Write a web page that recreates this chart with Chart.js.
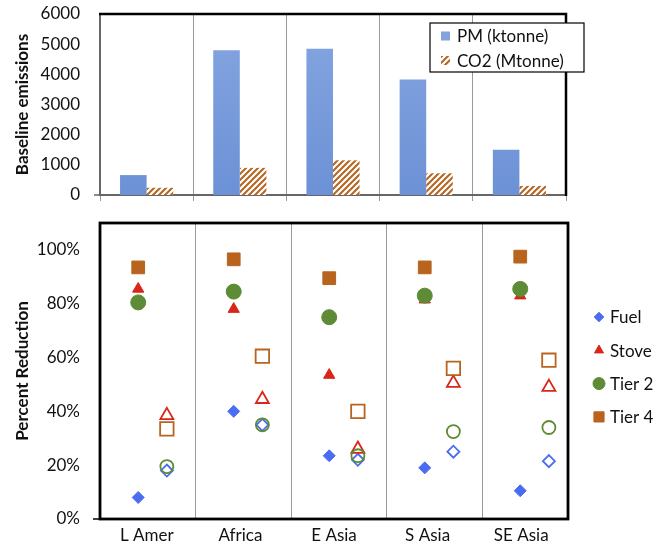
<!DOCTYPE html>
<html><head><meta charset="utf-8">
<script src="https://cdn.jsdelivr.net/npm/chart.js@4.4.1/dist/chart.umd.min.js"></script>
<style>
html,body{margin:0;padding:0;background:#fff;}
#wrap{position:relative;width:672px;height:545px;overflow:hidden;}
#c1{position:absolute;left:0;top:0;}
#c2{position:absolute;left:0;top:210px;}
</style></head>
<body><div id="wrap"><canvas id="c1" width="672" height="210"></canvas><canvas id="c2" width="672" height="335"></canvas></div>
<script>
// ---------- data ----------
const categories = ['L Amer', 'Africa', 'E Asia', 'S Asia', 'SE Asia'];
const baselineLabels = ['PM (ktonne)', 'CO2 (Mtonne)'];
const pmBaseline  = [660, 4800, 4850, 3830, 1500];
const co2Baseline = [240, 900, 1150, 720, 300];
const baselineTicks = [0, 1000, 2000, 3000, 4000, 5000, 6000];

const seriesNames = ['Fuel', 'Stove', 'Tier 2', 'Tier 4'];
// PM reductions (%) - filled markers
const pmFuel  = [8, 40, 23.5, 19, 10.5];
const pmStove = [85.5, 78, 53.5, 81.5, 83];
const pmTier2 = [80.5, 84.5, 75, 83, 85.5];
const pmTier4 = [93.5, 96.5, 89.5, 93.5, 97.5];
// CO2 reductions (%) - open markers
const co2Fuel  = [18, 35, 22, 25, 21.5];
const co2Stove = [38.5, 44.5, 26, 50.5, 49];
const co2Tier2 = [19.5, 35, 23.5, 32.5, 34];
const co2Tier4 = [33.5, 60.5, 40, 56, 59];
const percentTicks = [0, 20, 40, 60, 80, 100];

// ---------- style ----------
Chart.defaults.font.family = 'Lato, "Open Sans", sans-serif';
Chart.defaults.font.size = 17;
Chart.defaults.color = '#111';
const HATCH = '#b5651d';
const COLORS = ['#4a6cf0', '#d8261a', '#5e8b35', '#b8641f'];
const STYLES = ['rectRot', 'triangle', 'circle', 'rect'];
const RF = [6, 6.5, 7.5, 9];     // filled radii
const RO = [6, 7.5, 6.5, 9.5];   // open radii
const FILLED_OFF = 0.4, OPEN_OFF = 0.7;

function makeHatch(ctx) {
  const p = document.createElement('canvas'); p.width = 6; p.height = 6;
  const c = p.getContext('2d');
  c.fillStyle = '#fff'; c.fillRect(0, 0, 6, 6);
  c.strokeStyle = HATCH; c.lineWidth = 2; c.lineCap = 'square';
  c.beginPath();
  c.moveTo(0, 6); c.lineTo(6, 0);
  c.moveTo(-3, 3); c.lineTo(3, -3);
  c.moveTo(3, 9); c.lineTo(9, 3);
  c.stroke();
  return ctx.createPattern(p, 'repeat');
}

const ctx1 = document.getElementById('c1').getContext('2d');
const hatchPattern = makeHatch(ctx1);
const blueGrad = ctx1.createLinearGradient(0, 14, 0, 195);
blueGrad.addColorStop(0, '#85a6e0');
blueGrad.addColorStop(1, '#6d91d6');

// frame + legend plugin for top chart
const topFrame = {
  id: 'topFrame',
  afterDraw(chart) {
    const {ctx, chartArea: a} = chart;
    ctx.save();
    ctx.strokeStyle = '#000'; ctx.lineWidth = 2.5;
    ctx.beginPath();
    ctx.moveTo(a.left - 1, a.top); ctx.lineTo(a.right, a.top); ctx.lineTo(a.right, a.bottom + 1);
    ctx.stroke();
    ctx.strokeStyle = '#666'; ctx.lineWidth = 1.5;
    ctx.beginPath(); ctx.moveTo(a.left - 6, a.bottom); ctx.lineTo(a.left, a.bottom); ctx.stroke();
    // legend box
    const lx = 430, ly = 23, lw = 154, lh = 49;
    ctx.fillStyle = '#fff'; ctx.fillRect(lx, ly, lw, lh);
    ctx.strokeStyle = '#000'; ctx.lineWidth = 1.2; ctx.strokeRect(lx, ly, lw, lh);
    const ds = chart.data.datasets;
    ctx.font = '17px Lato, "Open Sans", sans-serif';
    ctx.textBaseline = 'middle';
    ds.forEach((d, i) => {
      const cy = ly + 13 + i * 24.5;
      ctx.fillStyle = d.backgroundColor;
      ctx.fillRect(lx + 11, cy - 4.5, 9, 9);
      ctx.fillStyle = '#111';
      ctx.fillText(d.label, lx + 27, cy + 1);
    });
    ctx.restore();
  }
};

new Chart(ctx1, {
  type: 'bar',
  data: {
    labels: categories,
    datasets: [
      {label: baselineLabels[0], data: pmBaseline, backgroundColor: blueGrad, borderWidth: 0},
      {label: baselineLabels[1], data: co2Baseline, backgroundColor: hatchPattern, borderWidth: 0}
    ]
  },
  options: {
    responsive: false, animation: false, devicePixelRatio: 1,
    categoryPercentage: 0.57, barPercentage: 1.0,
    layout: {padding: {top: 14, right: 106, left: 0, bottom: 0}},
    plugins: {legend: {display: false}, tooltip: {enabled: false}},
    scales: {
      x: {
        ticks: {display: false},
        grid: {color: '#9a9a9a', lineWidth: 1, tickLength: 6, offset: true},
        border: {color: '#666', width: 2},
        afterFit: s => { s.height = 15; }
      },
      y: {
        min: 0, max: 6000,
        afterBuildTicks: s => { s.ticks = baselineTicks.map(v => ({value: v})); },
        ticks: {padding: 0, font: {size: 17}, callback: v => String(v)},
        grid: {display: false, drawTicks: true, tickLength: 20},
        border: {color: '#666', width: 2},
        title: {display: true, text: 'Baseline emissions', font: {size: 17, weight: 'bold'}, padding: {top: 12, bottom: 0}},
        afterFit: s => { s.width = 100; }
      }
    }
  },
  plugins: [topFrame]
});

// ---------- bottom chart ----------
const pmSeries = [pmFuel, pmStove, pmTier2, pmTier4];
const co2Series = [co2Fuel, co2Stove, co2Tier2, co2Tier4];
const datasets = [];
seriesNames.forEach((name, k) => {
  datasets.push({
    label: name, group: 'PM',
    data: pmSeries[k].map((v, i) => ({x: i + FILLED_OFF, y: v})),
    pointStyle: STYLES[k], pointRadius: RF[k],
    backgroundColor: COLORS[k], borderColor: COLORS[k], borderWidth: 1,
    order: 4 - k
  });
  datasets.push({
    label: name + ' (CO2)', group: 'CO2',
    data: co2Series[k].map((v, i) => ({x: i + OPEN_OFF, y: v})),
    pointStyle: STYLES[k], pointRadius: RO[k],
    backgroundColor: 'rgba(255,255,255,0)', borderColor: COLORS[k], borderWidth: 1.8,
    order: 4 - k
  });
});

const bottomDecor = {
  id: 'bottomDecor',
  afterDraw(chart) {
    const {ctx, chartArea: a} = chart;
    ctx.save();
    ctx.strokeStyle = '#000'; ctx.lineWidth = 2.8;
    ctx.strokeRect(a.left, a.top, a.right - a.left, a.bottom - a.top);
    ctx.lineWidth = 1.5;
    ctx.beginPath(); ctx.moveTo(a.left - 7, a.bottom); ctx.lineTo(a.left, a.bottom); ctx.stroke();
    // legend
    const items = chart.data.datasets.filter(d => d.group === 'PM');
    ctx.font = '17px Lato, "Open Sans", sans-serif';
    ctx.textBaseline = 'middle'; ctx.textAlign = 'left';
    items.forEach((d, i) => {
      const cy = 107 + i * 33.3;
      ctx.fillStyle = d.backgroundColor; ctx.strokeStyle = d.borderColor; ctx.lineWidth = 1;
      Chart.helpers.drawPoint(ctx, {pointStyle: d.pointStyle, radius: d.pointRadius * 0.8, rotation: 0, borderWidth: 1}, 599, cy);
      ctx.fillStyle = '#111';
      ctx.fillText(d.label, 610, cy + 1);
    });
    ctx.restore();
  }
};

new Chart(document.getElementById('c2').getContext('2d'), {
  type: 'scatter',
  data: {datasets},
  options: {
    responsive: false, animation: false, devicePixelRatio: 1,
    layout: {padding: {top: 13, right: 104, left: 0, bottom: 0}},
    plugins: {legend: {display: false}, tooltip: {enabled: false}},
    scales: {
      x: {
        type: 'linear', position: 'bottom', min: 0, max: 4.9,
        afterBuildTicks: s => { s.ticks = categories.slice(1).map((c, i) => ({value: i + 1})); },
        ticks: {display: false},
        grid: {color: '#9a9a9a', lineWidth: 1, drawTicks: false},
        border: {display: false},
        afterFit: s => { s.height = 0; }
      },
      xl: {
        type: 'category', position: 'bottom', labels: categories, offset: true,
        grid: {display: false, drawTicks: false},
        border: {display: false},
        ticks: {padding: 6, font: {size: 17}},
        afterFit: s => { s.height = 26; }
      },
      y: {
        min: 0, max: 110,
        afterBuildTicks: s => { s.ticks = percentTicks.map(v => ({value: v})); },
        ticks: {padding: 0, font: {size: 17}, callback: v => v + '%'},
        grid: {display: false, drawTicks: true, tickLength: 20},
        border: {display: false},
        title: {display: true, text: 'Percent Reduction', font: {size: 17, weight: 'bold'}, padding: {top: 12, bottom: 0}},
        afterFit: s => { s.width = 100; }
      }
    }
  },
  plugins: [bottomDecor]
});
</script>
</body></html>
